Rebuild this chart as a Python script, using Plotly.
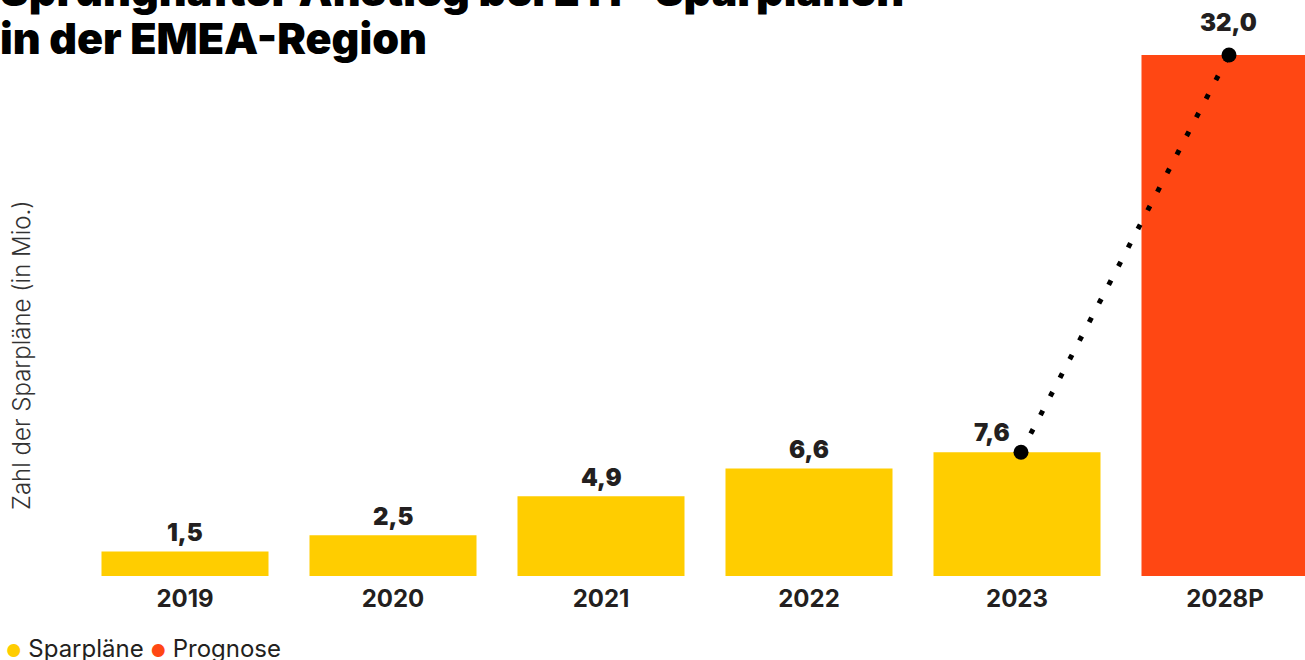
import plotly.graph_objects as go

categories = ["2019", "2020", "2021", "2022", "2023", "2028P"]
values = [1.5, 2.5, 4.9, 6.6, 7.6, 32.0]
value_labels = ["1,5", "2,5", "4,9", "6,6", "7,6", "32,0"]
series_names = ["Sparpläne", "Prognose"]
bar_colors = ["#FFCD00", "#FFCD00", "#FFCD00", "#FFCD00", "#FFCD00", "#FF4713"]
trend_x = ["2023", "2028P"]
trend_y = [7.6, 32.0]
title_lines = ["Sprunghafter Anstieg bei ETF-Sparplänen", "in der EMEA-Region"]
y_title = "Zahl der Sparpläne (in Mio.)"

W, H = 1305, 660
ML, MB, MT = 81, 84, 0
plot_h = H - MB - MT
plot_w = W - ML
CAT_PX = 208.0

def px_x(p):
    return (p - ML) / plot_w

def px_y(p):
    return (plot_h - p) / plot_h

HEAVY = "Inter"
TEXTC = "#231F20"

fig = go.Figure()
fig.add_trace(go.Bar(
    x=categories, y=values, marker=dict(color=bar_colors, line=dict(width=0)),
    showlegend=False, hoverinfo="skip",
))
fig.add_trace(go.Scatter(
    x=trend_x, y=trend_y, mode="lines+markers", xaxis="x2",
    line=dict(color="#000000", width=5, dash="5px,16px"),
    marker=dict(color="#000000", size=15),
    showlegend=False, hoverinfo="skip", cliponaxis=False,
))

annotations = []
for i, (v, t) in enumerate(zip(values, value_labels)):
    xs, ys = 0, 19
    if i == 4:
        xs, ys = -25, 20
    if i == 5:
        xs, ys = 3, 33
    annotations.append(dict(
        x=i, y=v, xref="x", yref="y", text=t, showarrow=False,
        xanchor="center", yanchor="middle", xshift=xs, yshift=ys,
        font=dict(family=HEAVY, size=24, color=TEXTC, weight=900),
    ))

# Title (first line partly cut off at the top)
for line, py in zip(title_lines, [-10, 38]):
    annotations.append(dict(
        x=px_x(-2), y=px_y(py), xref="paper", yref="paper", text=line,
        showarrow=False, xanchor="left", yanchor="middle",
        font=dict(family=HEAVY, size=43, color="#000000", weight=900),
    ))

# Y axis title
annotations.append(dict(
    x=px_x(21), y=px_y(355), xref="paper", yref="paper", text=y_title,
    showarrow=False, textangle=-90, xanchor="center", yanchor="middle",
    font=dict(family="Inter", size=24, color="#333333", weight=300),
))

# Legend
legend_text = (
    f"<span style='color:{bar_colors[0]};font-size:17px'>●</span> {series_names[0]} "
    f"<span style='color:{bar_colors[5]};font-size:17px'>●</span> {series_names[1]}"
)
annotations.append(dict(
    x=px_x(4), y=px_y(648), xref="paper", yref="paper", text=legend_text,
    showarrow=False, xanchor="left", yanchor="middle",
    font=dict(family="Inter", size=24, color=TEXTC),
))

xrange = [-0.5, -0.5 + plot_w / CAT_PX]
shift = 4.0 / CAT_PX

fig.update_layout(
    width=W, height=H,
    margin=dict(l=ML, r=0, t=MT, b=MB, pad=0),
    plot_bgcolor="#FFFFFF", paper_bgcolor="#FFFFFF",
    bargap=0.197,
    showlegend=False,
    annotations=annotations,
    xaxis=dict(
        type="category", range=xrange, categoryarray=categories,
        showgrid=False, zeroline=False, showline=False, ticks="",
        tickfont=dict(family="Inter", size=24, color=TEXTC, weight=700),
        ticklabelstandoff=6,
    ),
    xaxis2=dict(
        type="category", overlaying="x", range=[xrange[0] - shift, xrange[1] - shift],
        categoryarray=categories, categoryorder="array",
        showgrid=False, zeroline=False, showline=False, ticks="",
        showticklabels=False,
    ),
    yaxis=dict(
        range=[0, plot_h / 16.28], showgrid=False, zeroline=False,
        showline=False, showticklabels=False, ticks="",
    ),
)

fig.write_html("out.html")
